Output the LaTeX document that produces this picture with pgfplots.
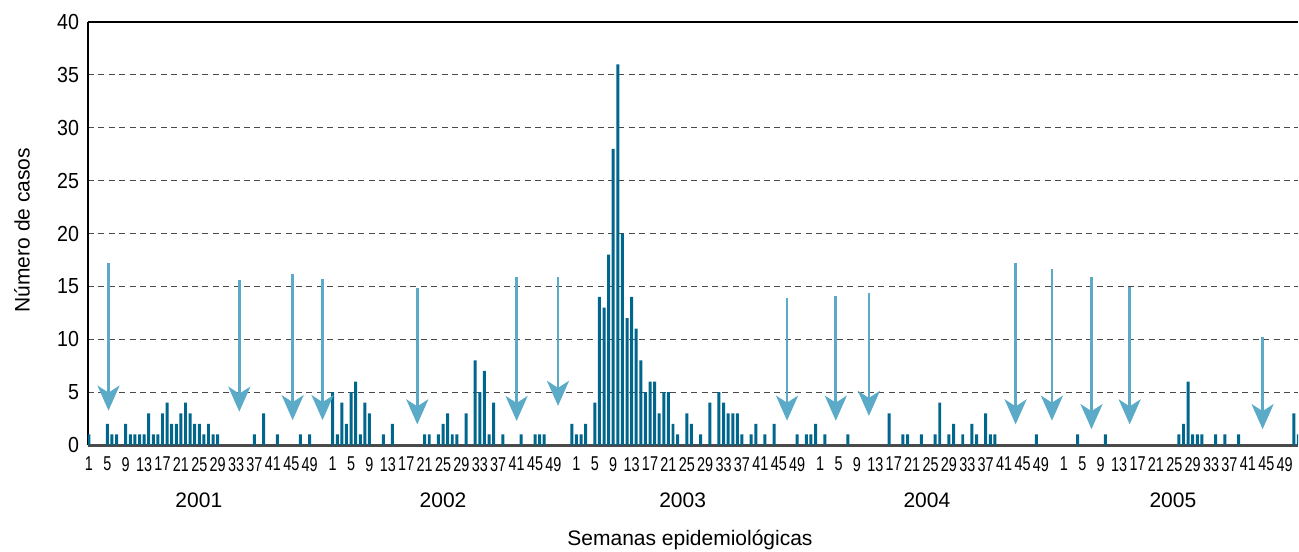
\documentclass[border=0pt]{standalone}
\usepackage{fontspec}
\setmainfont{Liberation Sans}
\newfontfamily\ytfont{Liberation Sans}[FakeStretch=0.9]
\newfontfamily\xtfont{Liberation Sans}[FakeStretch=0.72]
\usepackage{pgfplots}
\pgfplotsset{compat=1.18}
\usepackage{pgfplotstable}
\usetikzlibrary{arrows.meta}
\definecolor{barblue}{HTML}{00668C}
\definecolor{arrowblue}{HTML}{5AAAC8}
\definecolor{gridgray}{HTML}{4A4A4A}

% x = slot index: year offset 53*(year-2001) + (week-1)
\pgfplotstableread{
x y
0 1
4 2
5 1
6 1
8 2
9 1
10 1
11 1
12 1
13 3
14 1
15 1
16 3
17 4
18 2
19 2
20 3
21 4
22 3
23 2
24 2
25 1
26 2
27 1
28 1
36 1
38 3
41 1
46 1
48 1
53 5
54 1
55 4
56 2
57 5
58 6
59 1
60 4
61 3
64 1
66 2
73 1
74 1
76 1
77 2
78 3
79 1
80 1
82 3
84 8
85 5
86 7
87 1
88 4
90 1
94 1
97 1
98 1
99 1
105 2
106 1
107 1
108 2
110 4
111 14
112 13
113 18
114 28
115 36
116 20
117 12
118 14
119 11
120 8
121 5
122 6
123 6
124 3
125 5
126 5
127 2
128 1
130 3
131 2
133 1
135 4
137 5
138 4
139 3
140 3
141 3
142 1
144 1
145 2
147 1
149 2
154 1
156 1
157 1
158 2
160 1
165 1
174 3
177 1
178 1
181 1
184 1
185 4
187 1
188 2
190 1
192 2
193 1
195 3
196 1
197 1
206 1
215 1
221 1
237 1
238 2
239 6
240 1
241 1
242 1
245 1
247 1
250 1
262 3
263 1
}\casos

\begin{document}
\begin{tikzpicture}
\path[use as bounding box] (-44pt,-53pt) rectangle (605.5pt,222.5pt);
\begin{axis}[
  at={(0,0)}, anchor=south west,
  scale only axis, width=605pt, height=211.5pt,
  xmin=-0.2, xmax=262.9, ymin=0, ymax=40,
  clip mode=individual,
  axis x line*=bottom, axis y line*=left,
  axis line style={-},
  x axis line style={line width=1.5pt, draw=gridgray},
  y axis line style={line width=0.75pt, draw=black},
  major tick length=0pt,
  ytick={0,5,...,40},
  ymajorgrids,
  grid style={gridgray, line width=0.55pt, dash pattern=on 3pt off 2.2pt},
  /pgf/number format/assume math mode=true,
  yticklabel style={font={\ytfont\fontsize{10.9}{12}\selectfont}, xshift=-1pt},
  xtick={0,4,8,12,16,20,24,28,32,36,40,44,48,
         53,57,61,65,69,73,77,81,85,89,93,97,101,
         106,110,114,118,122,126,130,134,138,142,146,150,154,
         159,163,167,171,175,179,183,187,191,195,199,203,207,
         212,216,220,224,228,232,236,240,244,248,252,256,260},
  xticklabels={1,5,9,13,17,21,25,29,33,37,41,45,49,
               1,5,9,13,17,21,25,29,33,37,41,45,49,
               1,5,9,13,17,21,25,29,33,37,41,45,49,
               1,5,9,13,17,21,25,29,33,37,41,45,49,
               1,5,9,13,17,21,25,29,33,37,41,45,49},
  xticklabel style={font={\xtfont\fontsize{10}{11}\selectfont}, yshift=-2.5pt},
  xlabel={Semanas epidemiológicas},
  xlabel style={at={(axis description cs:0.4975,-0.2246)}, anchor=center, font=\fontsize{10.5}{12}\selectfont},
  ylabel={Número de casos},
  ylabel style={at={(axis description cs:-0.0545,0.508)}, anchor=center, font=\fontsize{10.5}{12}\selectfont},
]
\addplot[ybar, bar width=0.65, fill=barblue, draw=none] table[x=x, y=y] {\casos};

\pgfplotsset{flecha/.style={arrowblue, line width=1.4pt, -{Stealth[length=12.5pt, width=11pt, inset=3.5pt]}}}
\addplot[flecha] coordinates {(4.26,17.2) (4.26,3.25)};
\addplot[flecha] coordinates {(32.7,15.6) (32.7,3.15)};
\addplot[flecha] coordinates {(44.3,16.2) (44.3,2.35)};
\addplot[flecha] coordinates {(50.8,15.7) (50.8,2.35)};
\addplot[flecha] coordinates {(71.4,14.8) (71.4,1.95)};
\addplot[flecha] coordinates {(93.0,15.9) (93.0,2.27)};
\addplot[flecha] coordinates {(102.0,15.9) (102.0,3.7)};
\addplot[flecha] coordinates {(151.8,13.9) (151.8,2.3)};
\addplot[flecha] coordinates {(162.4,14.1) (162.4,2.3)};
\addplot[flecha] coordinates {(169.6,14.4) (169.6,2.75)};
\addplot[flecha] coordinates {(201.5,17.2) (201.5,1.95)};
\addplot[flecha] coordinates {(209.4,16.6) (209.4,2.3)};
\addplot[flecha] coordinates {(218.0,15.9) (218.0,1.5)};
\addplot[flecha] coordinates {(226.3,14.9) (226.3,1.95)};
\addplot[flecha] coordinates {(255.2,10.2) (255.2,1.5)};

\draw[black, line width=1pt] (rel axis cs:0,1) -- (rel axis cs:1,1);
\node[font=\fontsize{10.5}{12}\selectfont, yshift=-27.5pt] at (axis cs:23.9,0) {2001};
\node[font=\fontsize{10.5}{12}\selectfont, yshift=-27.5pt] at (axis cs:77.0,0) {2002};
\node[font=\fontsize{10.5}{12}\selectfont, yshift=-27.5pt] at (axis cs:129.1,0) {2003};
\node[font=\fontsize{10.5}{12}\selectfont, yshift=-27.5pt] at (axis cs:182.2,0) {2004};
\node[font=\fontsize{10.5}{12}\selectfont, yshift=-27.5pt] at (axis cs:235.7,0) {2005};
\end{axis}
\end{tikzpicture}
\end{document}
